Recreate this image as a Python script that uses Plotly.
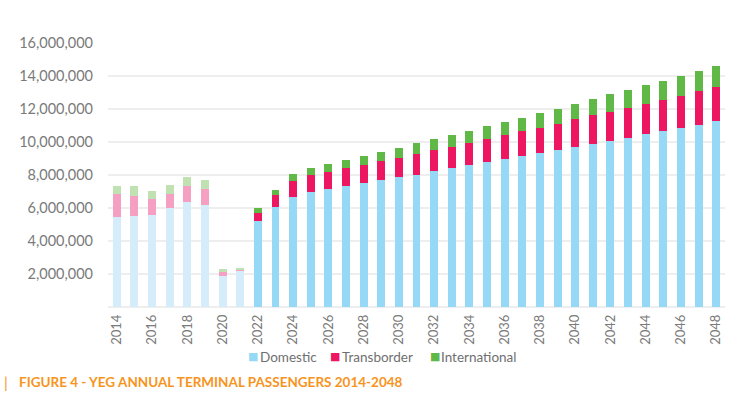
import plotly.graph_objects as go

years = list(range(2014, 2049))
domestic = [5.45, 5.52, 5.58, 6.00, 6.36, 6.18, 1.88, 2.24, 5.19, 6.08, 6.67, 6.99, 7.15, 7.33,
            7.49, 7.68, 7.86, 8.02, 8.22, 8.40, 8.59, 8.77, 8.95, 9.15, 9.33, 9.50, 9.70, 9.88,
            10.08, 10.26, 10.46, 10.65, 10.85, 11.03, 11.25]
transborder = [1.40, 1.21, 0.97, 0.85, 0.97, 0.97, 0.24, 0.06, 0.53, 0.71, 0.97, 1.01, 1.05, 1.09,
               1.11, 1.17, 1.19, 1.27, 1.30, 1.32, 1.37, 1.41, 1.47, 1.52, 1.54, 1.61, 1.68, 1.74,
               1.76, 1.82, 1.86, 1.92, 1.96, 2.06, 2.08]
international = [0.48, 0.60, 0.48, 0.54, 0.55, 0.55, 0.18, 0.06, 0.28, 0.30, 0.42, 0.44, 0.49, 0.51,
                 0.57, 0.56, 0.61, 0.63, 0.66, 0.72, 0.73, 0.79, 0.81, 0.80, 0.89, 0.91, 0.94, 0.99,
                 1.05, 1.07, 1.13, 1.15, 1.21, 1.21, 1.28]
first_forecast_year = 2022
series_names = ["Domestic", "Transborder", "International"]
hist_colors = ["#d5ecfa", "#f5a0c2", "#c0e2b2"]
fc_colors = ["#95d9f6", "#ec1661", "#60b947"]
y_ticks = [2e6, 4e6, 6e6, 8e6, 10e6, 12e6, 14e6, 16e6]

PLOT_L, PLOT_W, PLOT_B, PLOT_H = 108, 617, 307, 264


def px_x(p):
    return (p - PLOT_L) / PLOT_W


def px_y(p):
    return (PLOT_B - p) / PLOT_H


fig = go.Figure()
all_series = [domestic, transborder, international]
hist_idx = [i for i, y in enumerate(years) if y < first_forecast_year]
fc_idx = [i for i, y in enumerate(years) if y >= first_forecast_year]

for name, vals, hc, fcol in zip(series_names, all_series, hist_colors, fc_colors):
    fig.add_trace(go.Bar(
        x=[years[i] for i in hist_idx], y=[vals[i] * 1e6 for i in hist_idx],
        name=name, legendgroup=name, showlegend=False,
        marker=dict(color=hc, line=dict(width=0)),
    ))
    fig.add_trace(go.Bar(
        x=[years[i] for i in fc_idx], y=[vals[i] * 1e6 for i in fc_idx],
        name=name, legendgroup=name, showlegend=False,
        marker=dict(color=fcol, line=dict(width=0)),
    ))

# legend drawn as text (square glyph + label)
legend_sq_px = [247, 329, 429]
legend_txt_px = [258, 340, 439]
annotations = []
for name, col, sx, tx in zip(series_names, fc_colors, legend_sq_px, legend_txt_px):
    annotations.append(dict(text="■", xref="paper", yref="paper", x=px_x(sx - 1), y=px_y(356),
                            xanchor="left", yanchor="middle", showarrow=False,
                            font=dict(family="DejaVu Sans", size=11, color=col)))
    annotations.append(dict(text=name, xref="paper", yref="paper", x=px_x(tx), y=px_y(357),
                            xanchor="left", yanchor="middle", showarrow=False,
                            font=dict(family="Lato", size=13.5, color="#6f6f6f")))

annotations += [
    dict(text="|", xref="paper", yref="paper", x=px_x(2), y=px_y(382),
         xanchor="left", yanchor="middle", showarrow=False,
         font=dict(family="Lato", size=15, color="#f7941d")),
    dict(text="<b>FIGURE 4 - YEG ANNUAL TERMINAL PASSENGERS 2014-2048</b>",
         xref="paper", yref="paper", x=px_x(17), y=px_y(382),
         xanchor="left", yanchor="middle", showarrow=False,
         font=dict(family="Lato", size=13.5, color="#f7941d")),
]

fig.update_layout(
    width=733, height=400,
    barmode="stack", bargap=0.55,
    plot_bgcolor="white", paper_bgcolor="white",
    margin=dict(l=PLOT_L, r=733 - PLOT_L - PLOT_W, t=PLOT_B - PLOT_H, b=400 - PLOT_B),
    font=dict(family="Lato", color="#7a7a7a"),
    showlegend=False,
    xaxis=dict(range=[2013.5, 2048.5], tickmode="linear", tick0=2014, dtick=2,
               tickangle=-90, tickfont=dict(size=13, color="#7a7a7a"), ticklabelstandoff=4,
               showgrid=False, zeroline=False, showline=False, ticks=""),
    yaxis=dict(range=[0, 16e6], tickvals=y_ticks, tickformat=",d",
               tickfont=dict(size=14.5, color="#7a7a7a"), ticklabelstandoff=14,
               showgrid=True, gridcolor="#eeeeee", gridwidth=1.5,
               zeroline=True, zerolinecolor="#eeeeee", zerolinewidth=1.5,
               showline=False, ticks=""),
    annotations=annotations,
)

fig.write_html("out.html")
